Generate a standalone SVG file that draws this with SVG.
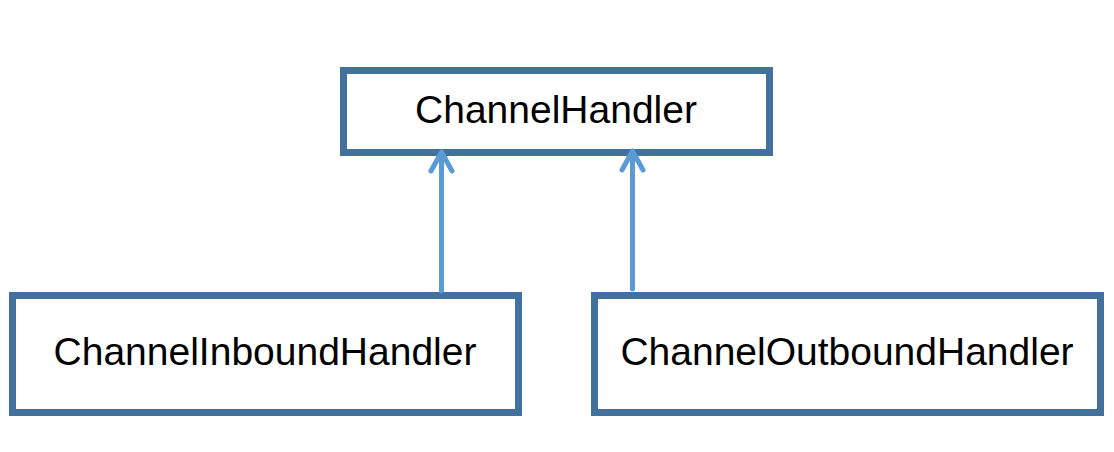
<svg xmlns="http://www.w3.org/2000/svg" width="1114" height="452" viewBox="0 0 1114 452">
<style>
.box{fill:#ffffff;stroke:#41719c;stroke-width:7}
.lbl{font-family:"Liberation Sans",Arial,sans-serif;font-size:39px;fill:#000000;text-anchor:middle}
.conn{fill:none;stroke:#5b9bd5;stroke-width:5;stroke-linecap:round;stroke-linejoin:round}
</style>
<rect width="1114" height="452" fill="#ffffff"/>
<g id="node-channelhandler">
<rect class="box" x="343.5" y="70.5" width="426" height="82"/>
<text class="lbl" x="556" y="123">ChannelHandler</text>
</g>
<g id="node-inbound">
<rect class="box" x="12.5" y="295.5" width="506" height="117"/>
<text class="lbl" x="265" y="365">ChannelInboundHandler</text>
</g>
<g id="node-outbound">
<rect class="box" x="594.5" y="295.5" width="506" height="117"/>
<text class="lbl" x="847" y="365">ChannelOutboundHandler</text>
</g>
<g id="connectors">
<path class="conn" d="M441.5 291 L441.5 152 M431 171 L441.5 152 L452 171"/>
<path class="conn" d="M632.5 289 L632.5 151 M622 170 L632.5 151 L643 170"/>
</g>
</svg>
